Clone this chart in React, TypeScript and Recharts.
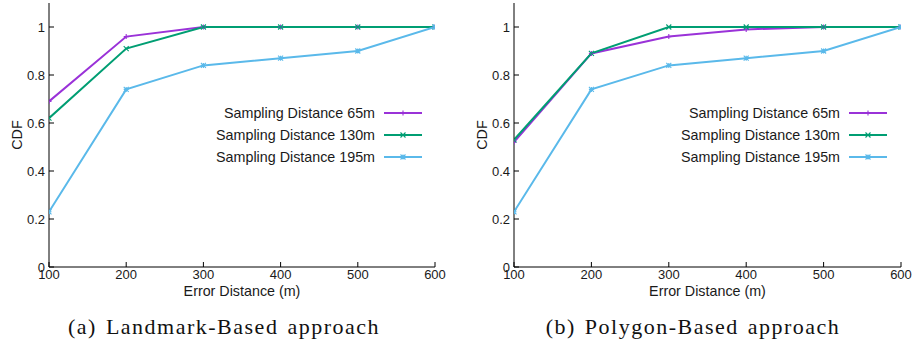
import React from 'react';
import { LineChart, Line, XAxis, YAxis, Legend } from 'recharts';

// Error distance (m) on the x axis
const errorDistance = [100, 200, 300, 400, 500, 600];
const cdfTicks = [0, 0.2, 0.4, 0.6, 0.8, 1];

// (a) Landmark-Based approach
const landmark65 = [0.69, 0.96, 1, 1, 1, 1];
const landmark130 = [0.62, 0.91, 1, 1, 1, 1];
const landmark195 = [0.23, 0.74, 0.84, 0.87, 0.9, 1];

// (b) Polygon-Based approach
const polygon65 = [0.52, 0.89, 0.96, 0.99, 1, 1];
const polygon130 = [0.53, 0.89, 1, 1, 1, 1];
const polygon195 = [0.23, 0.74, 0.84, 0.87, 0.9, 1];

const seriesNames = ['Sampling Distance 65m', 'Sampling Distance 130m', 'Sampling Distance 195m'];
const seriesColors = ['#9a32d8', '#009e73', '#5ab9ea'];
const seriesMarkers = ['plus', 'cross', 'star'];

const SANS = '"Liberation Sans", Arial, Helvetica, sans-serif';
const TEXT = '#1a1a1a';

const markerPath = (shape: string, cx: number, cy: number, s = 2.5) => {
	const plus = `M${cx - s},${cy}H${cx + s}M${cx},${cy - s}V${cy + s}`;
	const cross = `M${cx - s},${cy - s}L${cx + s},${cy + s}M${cx - s},${cy + s}L${cx + s},${cy - s}`;
	if (shape === 'plus') return plus;
	if (shape === 'cross') return cross;
	return plus + cross;
};

const makeDot = (shape: string, color: string) => (p: any) => (
	<path key={`dot-${p.index}`} d={markerPath(shape, p.cx, p.cy)} stroke={color} strokeWidth={1.1} fill="none" />
);

const LegendBox = ({ payload }: any) => {
	const items = [...(payload || [])].sort(
		(a: any, b: any) => seriesNames.indexOf(a.value) - seriesNames.indexOf(b.value)
	);
	return (
		<div style={{ fontFamily: SANS, fontSize: 14.3, color: TEXT }}>
			{items.map((entry: any, i: number) => {
				const idx = seriesNames.indexOf(entry.value);
				return (
					<div key={`leg-${i}`} style={{ display: 'flex', alignItems: 'center', height: 22 }}>
						<div style={{ width: 175, textAlign: 'right', whiteSpace: 'nowrap' }}>{entry.value}</div>
						<svg width={47} height={22}>
							<line x1={9} x2={47} y1={11} y2={11} stroke={entry.color} strokeWidth={2} />
							<path d={markerPath(seriesMarkers[idx], 28, 11)} stroke={entry.color} strokeWidth={1.1} fill="none" />
						</svg>
					</div>
				);
			})}
		</div>
	);
};

const cdfLabel = (x: number) => ({ viewBox }: any) => {
	const cy = viewBox.y + viewBox.height / 2;
	return (
		<text
			x={x}
			y={cy}
			transform={`rotate(-90, ${x}, ${cy})`}
			textAnchor="middle"
			dominantBaseline="central"
			fill={TEXT}
			fontSize={14.3}
			fontFamily={SANS}
		>
			CDF
		</text>
	);
};

interface PanelProps {
	left: number;
	width: number;
	yAxisWidth: number;
	marginRight: number;
	legendLeft: number;
	labelX: number;
	values: number[][];
}

const Panel: React.FC<PanelProps> = ({ left, width, yAxisWidth, marginRight, legendLeft, labelX, values }) => {
	const data = errorDistance.map((d, i) => ({
		dist: d,
		s0: values[0][i],
		s1: values[1][i],
		s2: values[2][i],
	}));
	const tickStyle = { fill: TEXT, fontSize: 13, fontFamily: SANS };
	return (
		<div style={{ position: 'absolute', left, top: 0 }}>
			<LineChart width={width} height={305} data={data} margin={{ top: 3, right: marginRight, bottom: 5, left: 0 }}>
				<XAxis
					dataKey="dist"
					type="number"
					domain={[100, 600]}
					ticks={errorDistance}
					allowDataOverflow
					height={33}
					tickSize={-5}
					tickMargin={8}
					tick={tickStyle}
					axisLine={{ stroke: '#000' }}
					tickLine={{ stroke: '#000' }}
					label={{ value: 'Error Distance (m)', position: 'insideBottom', offset: 4, fill: TEXT, fontSize: 14.3, fontFamily: SANS }}
				/>
				<XAxis
					xAxisId="top"
					orientation="top"
					type="number"
					domain={[100, 600]}
					ticks={errorDistance}
					allowDataOverflow
					height={0}
					tickSize={-5}
					tick={false}
					axisLine={{ stroke: '#000' }}
					tickLine={{ stroke: '#000' }}
				/>
				<YAxis
					type="number"
					domain={[0, 1.1]}
					ticks={cdfTicks}
					allowDataOverflow
					width={yAxisWidth}
					tickSize={-5}
					tickMargin={9}
					tick={tickStyle}
					axisLine={{ stroke: '#000' }}
					tickLine={{ stroke: '#000' }}
					label={{ content: cdfLabel(labelX) }}
				/>
				<YAxis
					yAxisId="right"
					orientation="right"
					type="number"
					domain={[0, 1.1]}
					ticks={cdfTicks}
					allowDataOverflow
					width={0}
					tickSize={-5}
					tick={false}
					axisLine={{ stroke: '#000' }}
					tickLine={{ stroke: '#000' }}
				/>
				{seriesNames.map((name, i) => (
					<Line
						key={name}
						dataKey={`s${i}`}
						name={name}
						stroke={seriesColors[i]}
						strokeWidth={2}
						dot={makeDot(seriesMarkers[i], seriesColors[i])}
						activeDot={false}
						isAnimationActive={false}
					/>
				))}
				<Legend
					layout="vertical"
					align="center"
					verticalAlign="middle"
					content={LegendBox}
					wrapperStyle={{ left: legendLeft, top: 102, width: 222 }}
				/>
			</LineChart>
		</div>
	);
};

const captionStyle: React.CSSProperties = {
	position: 'absolute',
	top: 314,
	width: 448,
	textAlign: 'center',
	fontFamily: '"Liberation Serif", "Times New Roman", serif',
	fontSize: 22,
	lineHeight: '26px',
	letterSpacing: 1.5,
	wordSpacing: 2,
	color: '#111',
	whiteSpace: 'nowrap',
};

export default function App() {
	return (
		<div style={{ position: 'absolute', left: 0, top: 0, width: 913, height: 345, background: '#fff' }}>
			<Panel left={0} width={460} yAxisWidth={49} marginRight={25} legendLeft={200} labelX={17} values={[landmark65, landmark130, landmark195]} />
			<Panel left={455} width={458} yAxisWidth={59} marginRight={12} legendLeft={210} labelX={27} values={[polygon65, polygon130, polygon195]} />
			<div style={{ ...captionStyle, left: 0 }}>(a) Landmark-Based approach</div>
			<div style={{ ...captionStyle, left: 469 }}>(b) Polygon-Based approach</div>
		</div>
	);
}
